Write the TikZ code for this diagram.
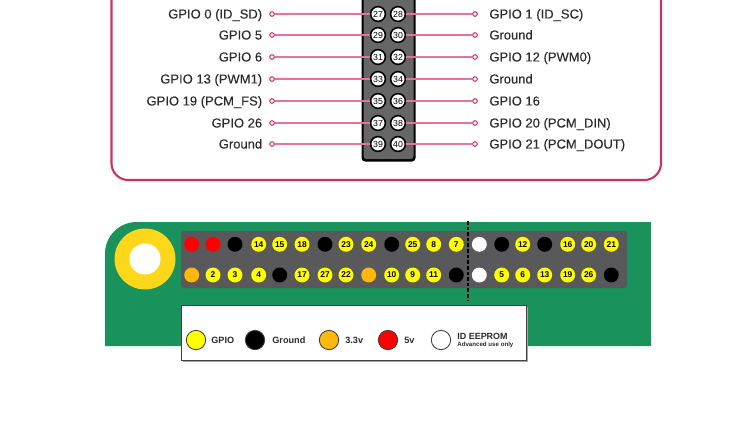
\documentclass[tikz,border=0pt]{standalone}
\usepackage{fontspec}
\setmainfont{Liberation Sans}
\usepackage{xcolor}
\definecolor{cFRAME}{HTML}{CF2F67}
\definecolor{cWIRE}{HTML}{E6739D}
\definecolor{cBOARD}{HTML}{1A925B}
\definecolor{cPANEL}{HTML}{59595B}
\definecolor{cHEADER}{HTML}{666666}
\definecolor{cRING}{HTML}{FDD71A}
\definecolor{cLABEL}{HTML}{2B2B2B}
\definecolor{cGPIO}{HTML}{FFFF00}
\definecolor{cVOLT}{HTML}{FDB70D}
\definecolor{cFIVE}{HTML}{FF0000}
\tikzset{
  pinlabel/.style={text=cLABEL, inner sep=0pt, text height=5.4pt, text depth=0.3pt,
    font=\fontsize{7.4}{9}\selectfont\addfontfeature{FakeBold=0.2}},
  headpin/.style={circle, draw=black, line width=0.9pt, fill=white, inner sep=0pt,
    minimum size=8.4pt, text=black, font=\fontsize{5}{5}\selectfont},
  wireend/.style={circle, draw=cFRAME, line width=0.6pt, fill=white, inner sep=0pt, minimum size=2.6pt},
  wire/.style={cWIRE, line width=0.8pt},
  bpin/.style={circle, inner sep=0pt, minimum size=8.5pt, text=black, font=\bfseries\fontsize{4.8}{5}\selectfont},
  pinY/.style={bpin, fill=cGPIO},
  pinK/.style={bpin, fill=black},
  pinO/.style={bpin, fill=cVOLT},
  pinR/.style={bpin, fill=cFIVE},
  pinW/.style={bpin, fill=white},
  keydot/.style={circle, draw=black!75, line width=0.5pt, inner sep=0pt, minimum size=11pt},
  keytext/.style={anchor=west, inner sep=0pt, text=cLABEL, font=\bfseries\fontsize{5.2}{6}\selectfont},
}
\begin{document}
\begin{tikzpicture}[x=0.02cm, y=-0.02cm]
  \useasboundingbox (0,0) rectangle (750,444);
  \clip (0,0) rectangle (750,444);

  % Upper frame, open past the top edge
  \draw[cFRAME, line width=1.2pt, rounded corners=9.5pt] (111.5,-30) rectangle (661,180);

  % Header block
  \fill[black, rounded corners=2pt] (361.5,-30) rectangle (415.5,161.5);
  \fill[cHEADER, rounded corners=1.5pt] (363.5,-30) rectangle (413.5,159);

  % Pins, wires and labels
  \foreach \a/\b/\y/\ltxt/\rtxt in {
    27/28/14/{GPIO 0 (ID\_SD)}/{GPIO 1 (ID\_SC)},
    29/30/35/{GPIO 5}/{Ground},
    31/32/57/{GPIO 6}/{GPIO 12 (PWM0)},
    33/34/79/{GPIO 13 (PWM1)}/{Ground},
    35/36/101/{GPIO 19 (PCM\_FS)}/{GPIO 16},
    37/38/123/{GPIO 26}/{GPIO 20 (PCM\_DIN)},
    39/40/144/{Ground}/{GPIO 21 (PCM\_DOUT)}} {
    \node[wireend] (e\a) at (272,\y) {};
    \node[wireend] (e\b) at (475,\y) {};
    \node[headpin] (h\a) at (378,\y) {\a};
    \node[headpin] (h\b) at (398,\y) {\b};
    \draw[wire] (e\a) -- (h\a);
    \draw[wire] (h\b) -- (e\b);
    \node[pinlabel, anchor=east] (l\a) at (262.5,\y) {\ltxt};
    \node[pinlabel, anchor=west] (l\b) at (489,\y) {\rtxt};
  }

  % Board outline
  \fill[cBOARD] (105,346) [rounded corners=18pt] -- (105,222) [sharp corners] -- (651,222) -- (651,346) -- cycle;
  \fill[cRING] (145,259) circle[radius=30.5];
  \fill[white] (145,259) circle[radius=15.5];
  \fill[cPANEL, rounded corners=1.5pt] (181,231) rectangle (627,288);

  % EEPROM divider
  \draw[black, line width=0.7pt, dash pattern=on 2pt off 1.2pt] (468,221) -- (468,300);

  % Top row
  \foreach \c/\x/\k/\n in {1/191.7/pinR/, 2/213/pinR/, 3/235/pinK/, 4/258.7/pinY/14, 5/279.7/pinY/15,
    6/302/pinY/18, 7/325/pinK/, 8/346/pinY/23, 9/368.7/pinY/24, 10/391.7/pinK/, 11/412.7/pinY/25,
    12/433.7/pinY/8, 13/456.3/pinY/7, 14/479.3/pinW/, 15/501.7/pinK/, 16/522.7/pinY/12,
    17/544.7/pinK/, 18/567.7/pinY/16, 19/588.7/pinY/20, 20/611.3/pinY/21} {
    \node[\k] (t\c) at (\x,244.3) {\n};
  }
  % Bottom row
  \foreach \c/\x/\k/\n in {1/191.7/pinO/, 2/213/pinY/2, 3/235/pinY/3, 4/258.7/pinY/4, 5/279.7/pinK/,
    6/302/pinY/17, 7/325/pinY/27, 8/346/pinY/22, 9/368.7/pinO/, 10/391.7/pinY/10, 11/412.7/pinY/9,
    12/433.7/pinY/11, 13/456.3/pinK/, 14/479.3/pinW/, 15/501.7/pinY/5, 16/522.7/pinY/6,
    17/544.7/pinY/13, 18/567.7/pinY/19, 19/588.7/pinY/26, 20/611.3/pinK/} {
    \node[\k] (b\c) at (\x,275) {\n};
  }

  % Key
  \fill[black!35] (182.5,306.5) rectangle (527.5,361.5);
  \draw[black!75, line width=0.45pt, fill=white] (181,305) rectangle (526,360);
  \foreach \x/\tx/\col/\txt in {196/211/cGPIO/GPIO, 255/272/black/Ground, 329/345/cVOLT/3.3v, 388/404/cFIVE/5v} {
    \node[keydot, fill=\col] (k\txt) at (\x,340) {};
    \node[keytext] (t\txt) at (\tx,340) {\txt};
  }
  \node[keydot, fill=white] (kEEPROM) at (441,340) {};
  \node[keytext, font=\bfseries\fontsize{5.1}{6}\selectfont] (tEEPROM) at (457,336) {ID EEPROM};
  \node[keytext, font=\bfseries\fontsize{3.5}{4}\selectfont] (tAdvanced) at (457,344.5) {Advanced use only};
\end{tikzpicture}
\end{document}
